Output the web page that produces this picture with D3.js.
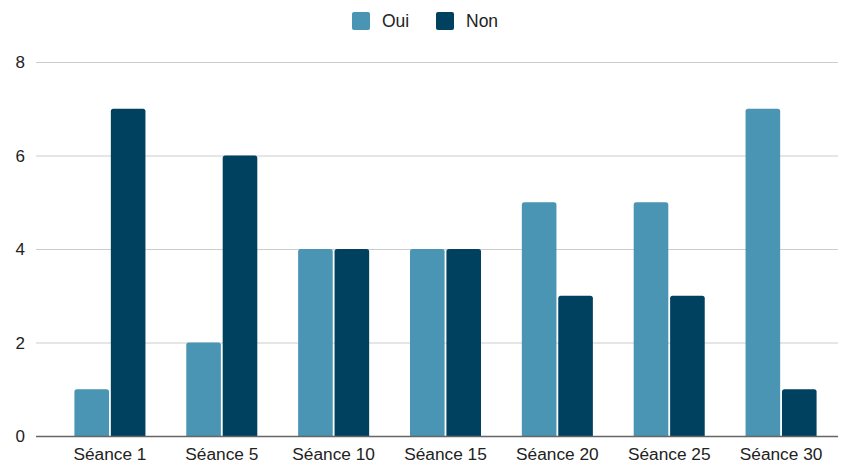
<!DOCTYPE html>
<html><head><meta charset="utf-8">
<script src="https://cdn.jsdelivr.net/npm/d3@7"></script>
<style>body{margin:0;background:#fff;} svg{display:block;font-family:"Liberation Sans", Arial, sans-serif;}</style>
</head><body>
<svg id="c" width="845" height="463"></svg>
<script>
const categories = ["Séance 1","Séance 5","Séance 10","Séance 15","Séance 20","Séance 25","Séance 30"];
const series = ["Oui","Non"];
const oui = [1,2,4,4,5,5,7];
const non = [7,6,4,4,3,3,1];
const yTicks = [0,2,4,6,8];
const colors = {"Oui":"#4a94b4","Non":"#00415f"};

const svg = d3.select("#c");
const gridLeft = 36, gridRight = 838;
const y = d3.scaleLinear().domain([0,8]).range([436,62]);
const x0 = d3.scaleBand().domain(categories).range([54,837]).paddingInner(0.365).paddingOuter(0.1825);
const x1 = d3.scaleBand().domain(series).range([0,x0.bandwidth()]).paddingInner(0.05);

// grid
svg.append("g").selectAll("line").data(yTicks.filter(d=>d>0)).join("line")
  .attr("x1",gridLeft).attr("x2",gridRight)
  .attr("y1",d=>y(d)+0.5).attr("y2",d=>y(d)+0.5)
  .attr("stroke","#cccccc").attr("stroke-width",1);

// y labels
svg.append("g").selectAll("text").data(yTicks).join("text")
  .attr("x",25).attr("y",d=>y(d)).attr("dy","0.36em")
  .attr("text-anchor","end").attr("font-size",17).attr("fill","#222")
  .text(d=>d);

// bars
const data = categories.map((c,i)=>({c, vals:[{s:"Oui",v:oui[i]},{s:"Non",v:non[i]}]}));
function barPath(xp,yp,w,h,r){
  r=Math.min(r,w/2,h);
  return `M${xp},${yp+h}V${yp+r}Q${xp},${yp} ${xp+r},${yp}H${xp+w-r}Q${xp+w},${yp} ${xp+w},${yp+r}V${yp+h}Z`;
}
svg.append("g").selectAll("g").data(data).join("g")
  .attr("transform",d=>`translate(${x0(d.c)},0)`)
  .selectAll("path").data(d=>d.vals).join("path")
  .attr("d",d=>barPath(x1(d.s), y(d.v), x1.bandwidth(), y(0)-y(d.v), 2.5))
  .attr("fill",d=>colors[d.s]);

// baseline
svg.append("line").attr("x1",gridLeft).attr("x2",gridRight)
  .attr("y1",y(0)+0.5).attr("y2",y(0)+0.5).attr("stroke","#666").attr("stroke-width",1.3);

// x labels
svg.append("g").selectAll("text").data(categories).join("text")
  .attr("x",d=>x0(d)+x0.bandwidth()/2).attr("y",460)
  .attr("text-anchor","middle").attr("font-size",17.3).attr("fill","#222")
  .text(d=>d);

// legend
const legend = [{s:"Oui",x:352},{s:"Non",x:436}];
const lg = svg.append("g").selectAll("g").data(legend).join("g").attr("transform",d=>`translate(${d.x},12)`);
lg.append("rect").attr("width",18).attr("height",18).attr("rx",2).attr("fill",d=>colors[d.s]);
lg.append("text").attr("x",30).attr("y",9).attr("dy","0.36em").attr("font-size",17.5).attr("fill","#222").text(d=>d.s);
</script>
</body></html>
